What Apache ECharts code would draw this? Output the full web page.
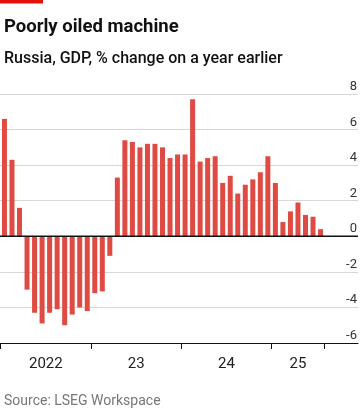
<!DOCTYPE html>
<html>
<head>
<meta charset="utf-8">
<script src="https://cdn.jsdelivr.net/npm/echarts@6/dist/echarts.min.js"></script>
<style>
html,body{margin:0;padding:0;background:#fff;}
#c{width:360px;height:409px;}
</style>
</head>
<body>
<div id="c"></div>
<script>
// Categories (monthly, Jan 2022 - Jul 2025)
const months = [
  '2022-01','2022-02','2022-03','2022-04','2022-05','2022-06','2022-07','2022-08','2022-09','2022-10','2022-11','2022-12',
  '2023-01','2023-02','2023-03','2023-04','2023-05','2023-06','2023-07','2023-08','2023-09','2023-10','2023-11','2023-12',
  '2024-01','2024-02','2024-03','2024-04','2024-05','2024-06','2024-07','2024-08','2024-09','2024-10','2024-11','2024-12',
  '2025-01','2025-02','2025-03','2025-04','2025-05','2025-06','2025-07'
];
// GDP, % change on a year earlier
const gdp = [
  6.6, 4.3, 1.6, -3.0, -4.3, -4.9, -4.3, -4.1, -5.0, -4.4, -4.0, -4.2,
  -3.2, -3.1, -1.1, 3.3, 5.4, 5.3, 5.0, 5.2, 5.2, 5.0, 4.4, 4.6,
  4.6, 7.7, 4.2, 4.4, 4.5, 3.0, 3.4, 2.4, 2.9, 3.2, 3.6, 4.5,
  3.0, 0.8, 1.4, 1.9, 1.2, 1.1, 0.4
];
const yearKeys = ['2022','2023','2024','2025'];
const yearLabels = ['2022','23','24','25'];
const yTicks = [-6, -4, -2, 0, 2, 4, 6, 8];

// label positions: centre of each year's run of months
const yearCentres = yearKeys.map(function (y) {
  let first = -1, count = 0;
  months.forEach(function (m, i) { if (m.slice(0,4) === y) { if (first < 0) first = i; count++; } });
  return first + count / 2;
});

const chart = echarts.init(document.getElementById('c'), null, {renderer: 'canvas'});
const FONT = 'Roboto';
const RED = '#DF4A43';

chart.setOption({
  animation: false,
  backgroundColor: '#fff',
  textStyle: {fontFamily: FONT},
  graphic: [{type: 'rect', left: 0, top: 0, shape: {width: 43, height: 3.5}, style: {fill: '#E3120B'}}],
  title: [
    {text: 'Poorly oiled machine', left: -1, top: 12, textStyle: {fontFamily: FONT, fontSize: 18.5, fontWeight: 'bold', color: '#111', lineHeight: 20}},
    {text: 'Russia, GDP, % change on a year earlier', left: -1, top: 44, textStyle: {fontFamily: FONT, fontSize: 16, fontWeight: 500, color: '#111', lineHeight: 19}},
    {text: 'Source: LSEG Workspace', left: -1, top: 388.5, textStyle: {fontFamily: FONT, fontSize: 14, fontWeight: 'normal', color: '#777', lineHeight: 16}}
  ],
  grid: [
    {left: 0, right: 0, top: 94, height: 249, containLabel: false},
    {left: 0.7, width: 323.6, top: 94, height: 249, containLabel: false}
  ],
  xAxis: [
    {gridIndex: 0, type: 'value', min: 0, max: 1, position: 'bottom',
      axisLine: {show: true, onZero: false, lineStyle: {color: '#111', width: 1}},
      axisTick: {show: false}, axisLabel: {show: false}, splitLine: {show: false}},
    {gridIndex: 1, type: 'category', data: months, position: 'bottom', boundaryGap: true,
      axisLine: {show: false, onZero: false},
      axisTick: {show: true, length: 6, interval: function (i) { return i % 12 === 0; }, lineStyle: {color: '#111', width: 1}},
      axisLabel: {show: false}, splitLine: {show: false}},
    {gridIndex: 1, type: 'value', min: 0, max: months.length, position: 'bottom',
      axisLine: {show: false, onZero: false}, axisTick: {show: false}, splitLine: {show: false},
      axisLabel: {show: true, customValues: yearCentres, margin: 13.5, fontSize: 15, color: '#222', fontFamily: FONT, lineHeight: 15,
        formatter: function (v) { const k = yearCentres.indexOf(v); return k >= 0 ? yearLabels[k] : ''; }}}
  ],
  yAxis: [
    {gridIndex: 0, type: 'value', min: yTicks[0], max: yTicks[yTicks.length - 1], interval: 2, position: 'right',
      axisLine: {show: false}, axisTick: {show: false},
      splitLine: {show: true, lineStyle: {color: '#d7d7d7', width: 1}},
      axisLabel: {inside: true, margin: 1, fontSize: 13, color: '#333', fontFamily: FONT, align: 'right', verticalAlign: 'bottom', lineHeight: 14.5,
        showMinLabel: true, showMaxLabel: true}},
    {gridIndex: 1, type: 'value', min: yTicks[0], max: yTicks[yTicks.length - 1], interval: 2, show: false}
  ],
  series: [
    {type: 'bar', xAxisIndex: 1, yAxisIndex: 1, data: gdp, barWidth: 5,
      itemStyle: {color: RED}, silent: true},
    {type: 'line', xAxisIndex: 0, yAxisIndex: 0, data: [[0, 0], [1, 0]], symbol: 'none',
      lineStyle: {color: '#111', width: 1.5}, silent: true, z: 5}
  ]
});
</script>
</body>
</html>
